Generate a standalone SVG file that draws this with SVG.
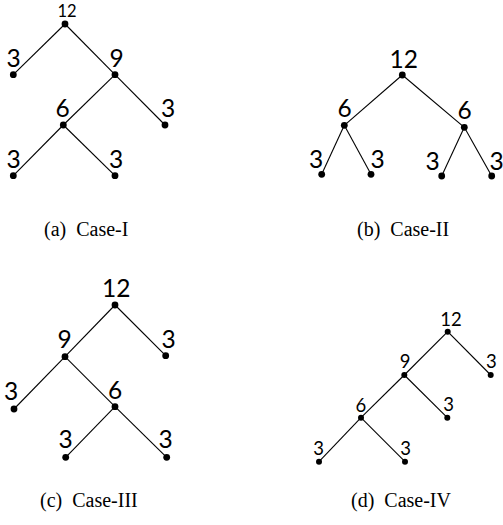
<svg xmlns="http://www.w3.org/2000/svg" width="503" height="525" viewBox="0 0 503 525">
<style>
.e{stroke:#000;stroke-width:1.1;fill:none}
.d{fill:#000}
.l{font-family:Lato,"Liberation Sans",sans-serif;font-size:24.5px;text-anchor:middle;fill:#000}
.s{font-size:16.5px}
.m{font-size:18.5px}
.c{font-family:"Liberation Serif","Times New Roman",serif;font-size:20px;fill:#000}
</style>
<rect width="503" height="525" fill="#fff"/>
<!-- Panel a -->
<g id="connectors-a">
<line class="e" x1="65" y1="24" x2="13.3" y2="74.7"/>
<line class="e" x1="65" y1="24" x2="115" y2="74.7"/>
<line class="e" x1="115" y1="74.7" x2="165" y2="125"/>
<line class="e" x1="115" y1="74.7" x2="63.3" y2="125"/>
<line class="e" x1="63.3" y1="125" x2="13.3" y2="175.7"/>
<line class="e" x1="63.3" y1="125" x2="115" y2="175.7"/>
</g>
<g id="a-12"><circle class="d" cx="65" cy="24" r="3.4"/><text class="l s" x="67" y="16.7">12</text></g>
<g id="a-3a"><circle class="d" cx="13.3" cy="74.7" r="3.4"/><text class="l" x="13.5" y="66.7">3</text></g>
<g id="a-9"><circle class="d" cx="115" cy="74.7" r="3.4"/><text class="l" x="116.7" y="66.7">9</text></g>
<g id="a-3b"><circle class="d" cx="165" cy="125" r="3.4"/><text class="l" x="168" y="117">3</text></g>
<g id="a-6"><circle class="d" cx="63.3" cy="125" r="3.4"/><text class="l" x="62.7" y="117">6</text></g>
<g id="a-3c"><circle class="d" cx="13.3" cy="175.7" r="3.4"/><text class="l" x="13.5" y="168">3</text></g>
<g id="a-3d"><circle class="d" cx="115" cy="175.7" r="3.4"/><text class="l" x="116" y="168">3</text></g>
<text class="c" x="44" y="236">(a)<tspan dx="10">Case-I</tspan></text>
<!-- Panel b -->
<g id="connectors-b">
<line class="e" x1="402.3" y1="75" x2="344.3" y2="125.3"/>
<line class="e" x1="402.3" y1="75" x2="464.3" y2="127.3"/>
<line class="e" x1="344.3" y1="125.3" x2="321.7" y2="174.3"/>
<line class="e" x1="344.3" y1="125.3" x2="371" y2="174.3"/>
<line class="e" x1="464.3" y1="127.3" x2="441.7" y2="176"/>
<line class="e" x1="464.3" y1="127.3" x2="491.7" y2="176"/>
</g>
<g id="b-12"><circle class="d" cx="402.3" cy="75" r="3.4"/><text class="l" x="403.7" y="68.3">12</text></g>
<g id="b-6a"><circle class="d" cx="344.3" cy="125.3" r="3.4"/><text class="l" x="344.5" y="117.3">6</text></g>
<g id="b-6b"><circle class="d" cx="464.3" cy="127.3" r="3.4"/><text class="l" x="464.7" y="119">6</text></g>
<g id="b-3a"><circle class="d" cx="321.7" cy="174.3" r="3.4"/><text class="l" x="316" y="167.7">3</text></g>
<g id="b-3b"><circle class="d" cx="371" cy="174.3" r="3.4"/><text class="l" x="377.5" y="167.7">3</text></g>
<g id="b-3c"><circle class="d" cx="441.7" cy="176" r="3.4"/><text class="l" x="432.7" y="170">3</text></g>
<g id="b-3d"><circle class="d" cx="491.7" cy="176" r="3.4"/><text class="l" x="496.7" y="170">3</text></g>
<text class="c" x="357" y="236">(b)<tspan dx="10">Case-II</tspan></text>
<!-- Panel c -->
<g id="connectors-c">
<line class="e" x1="115" y1="305" x2="65" y2="356.7"/>
<line class="e" x1="115" y1="305" x2="165.7" y2="355.7"/>
<line class="e" x1="65" y1="356.7" x2="14" y2="409"/>
<line class="e" x1="65" y1="356.7" x2="115" y2="406.7"/>
<line class="e" x1="115" y1="406.7" x2="65.7" y2="457.3"/>
<line class="e" x1="115" y1="406.7" x2="166.7" y2="457.3"/>
</g>
<g id="c-12"><circle class="d" cx="115" cy="305" r="3.4"/><text class="l" x="116.3" y="297.3">12</text></g>
<g id="c-9"><circle class="d" cx="65" cy="356.7" r="3.4"/><text class="l" x="64.5" y="348.3">9</text></g>
<g id="c-3a"><circle class="d" cx="165.7" cy="355.7" r="3.4"/><text class="l" x="168.5" y="348.3">3</text></g>
<g id="c-3b"><circle class="d" cx="14" cy="409" r="3.4"/><text class="l" x="11.2" y="400">3</text></g>
<g id="c-6"><circle class="d" cx="115" cy="406.7" r="3.4"/><text class="l" x="115" y="399.3">6</text></g>
<g id="c-3c"><circle class="d" cx="65.7" cy="457.3" r="3.4"/><text class="l" x="65.5" y="448.3">3</text></g>
<g id="c-3d"><circle class="d" cx="166.7" cy="457.3" r="3.4"/><text class="l" x="165.5" y="448.3">3</text></g>
<text class="c" x="40" y="507">(c)<tspan dx="10">Case-III</tspan></text>
<!-- Panel d -->
<g id="connectors-d">
<line class="e" x1="447.7" y1="331.7" x2="490.7" y2="375"/>
<line class="e" x1="447.7" y1="331.7" x2="404.3" y2="375"/>
<line class="e" x1="404.3" y1="375" x2="447.3" y2="417.7"/>
<line class="e" x1="404.3" y1="375" x2="361" y2="417.7"/>
<line class="e" x1="361" y1="417.7" x2="319" y2="461.7"/>
<line class="e" x1="361" y1="417.7" x2="405" y2="461.7"/>
</g>
<g id="d-12"><circle class="d" cx="447.7" cy="331.7" r="3"/><text class="l m" x="451" y="326">12</text></g>
<g id="d-3a"><circle class="d" cx="490.7" cy="375" r="3"/><text class="l m" x="491.3" y="368.3">3</text></g>
<g id="d-9"><circle class="d" cx="404.3" cy="375" r="3"/><text class="l m" x="405" y="368.3">9</text></g>
<g id="d-3b"><circle class="d" cx="447.3" cy="417.7" r="3"/><text class="l m" x="448.7" y="410.7">3</text></g>
<g id="d-6"><circle class="d" cx="361" cy="417.7" r="3"/><text class="l m" x="360.8" y="411.7">6</text></g>
<g id="d-3c"><circle class="d" cx="319" cy="461.7" r="3"/><text class="l m" x="318.7" y="455">3</text></g>
<g id="d-3d"><circle class="d" cx="405" cy="461.7" r="3"/><text class="l m" x="405.5" y="455">3</text></g>
<text class="c" x="351" y="507">(d)<tspan dx="10">Case-IV</tspan></text>
</svg>
